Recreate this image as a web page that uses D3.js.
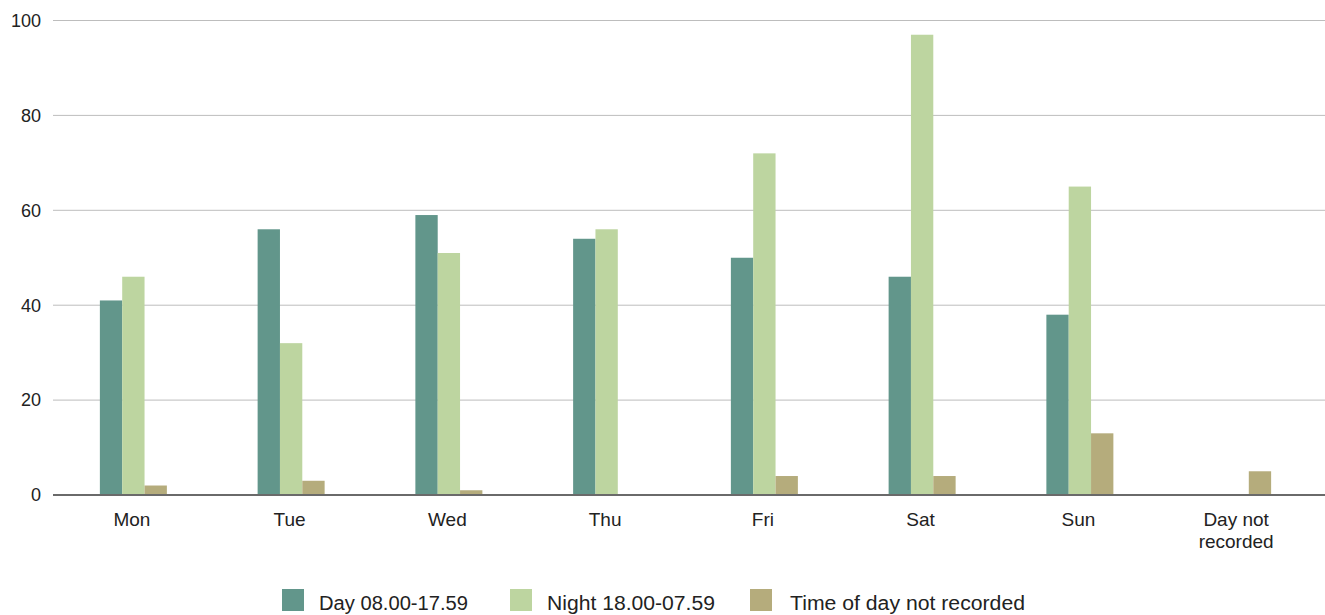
<!DOCTYPE html>
<html>
<head>
<meta charset="utf-8">
<script src="https://cdn.jsdelivr.net/npm/d3@7"></script>
<style>
  html, body { margin: 0; padding: 0; background: #fff; }
  svg { display: block; font-family: "Liberation Sans", Arial, sans-serif; }
</style>
</head>
<body>
<svg id="chart" width="1325" height="615"></svg>
<script>
// Incidents by day of week and time of day
const categories = ["Mon", "Tue", "Wed", "Thu", "Fri", "Sat", "Sun", "Day not recorded"];
const seriesNames = ["Day 08.00-17.59", "Night 18.00-07.59", "Time of day not recorded"];
const dayValues = [41, 56, 59, 54, 50, 46, 38, 0];
const nightValues = [46, 32, 51, 56, 72, 97, 65, 0];
const notRecordedValues = [2, 3, 1, 0, 4, 4, 13, 5];
const yTicks = [0, 20, 40, 60, 80, 100];
const colors = ["#62968b", "#bdd5a0", "#b5ac7c"];

const series = [dayValues, nightValues, notRecordedValues];

const svg = d3.select("#chart");
const plotLeft = 53, plotRight = 1315, plotTop = 20.5, plotBottom = 495;

const x = d3.scaleBand().domain(categories).range([plotLeft, plotRight]);
const sub = d3.scaleBand().domain(d3.range(series.length))
  .range([-32, 35]).paddingInner(0);
const y = d3.scaleLinear().domain([0, 100]).range([plotBottom, plotTop]);

// Horizontal gridlines
svg.append("g")
  .selectAll("line")
  .data(yTicks.filter(d => d > 0))
  .join("line")
  .attr("x1", plotLeft).attr("x2", 1325)
  .attr("y1", d => y(d)).attr("y2", d => y(d))
  .attr("stroke", "#bdbdbd").attr("stroke-width", 1);

// Y axis labels
svg.append("g")
  .selectAll("text")
  .data(yTicks)
  .join("text")
  .attr("x", 41)
  .attr("y", d => y(d))
  .attr("dy", "0.35em")
  .attr("text-anchor", "end")
  .attr("font-size", 18)
  .attr("fill", "#222")
  .text(d => d);

// Bars
series.forEach((vals, si) => {
  svg.append("g")
    .selectAll("rect")
    .data(vals.map((v, i) => ({ cat: categories[i], v })))
    .join("rect")
    .attr("x", d => x(d.cat) + x.bandwidth() / 2 + sub(si))
    .attr("width", sub.bandwidth())
    .attr("y", d => y(d.v))
    .attr("height", d => y(0) - y(d.v))
    .attr("fill", colors[si]);
});

// Baseline
svg.append("line")
  .attr("x1", plotLeft).attr("x2", 1325)
  .attr("y1", y(0)).attr("y2", y(0))
  .attr("stroke", "#6a6a6a").attr("stroke-width", 2);

// X axis labels (wrapped)
const xLabelLines = { "Day not recorded": ["Day not", "recorded"] };
const xl = svg.append("g")
  .selectAll("text")
  .data(categories)
  .join("text")
  .attr("x", d => x(d) + x.bandwidth() / 2)
  .attr("y", 526)
  .attr("text-anchor", "middle")
  .attr("font-size", 19)
  .attr("fill", "#222");
xl.each(function (d) {
  const lines = xLabelLines[d] || [d];
  d3.select(this).selectAll("tspan")
    .data(lines)
    .join("tspan")
    .attr("x", x(d) + x.bandwidth() / 2)
    .attr("dy", (l, i) => i === 0 ? 0 : 22)
    .text(l => l);
});

// Legend
const legendX = [282, 510, 750];
const legendTextX = [37, 37, 40];
const legendTextW = [149, 168, 235];
const legend = svg.append("g")
  .selectAll("g")
  .data(seriesNames)
  .join("g")
  .attr("transform", (d, i) => `translate(${legendX[i]},589)`);
legend.append("rect")
  .attr("width", 22).attr("height", 22)
  .attr("fill", (d, i) => colors[i]);
legend.append("text")
  .attr("x", (d, i) => legendTextX[i])
  .attr("y", 20.5)
  .attr("font-size", 20)
  .attr("fill", "#222")
  .attr("textLength", (d, i) => legendTextW[i])
  .attr("lengthAdjust", "spacingAndGlyphs")
  .text(d => d);
</script>
</body>
</html>
